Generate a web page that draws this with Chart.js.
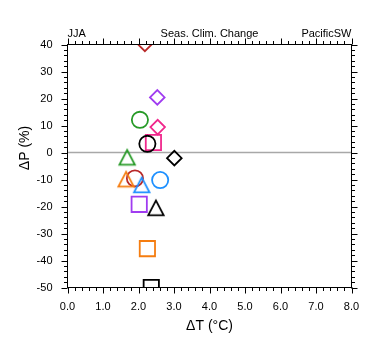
<!DOCTYPE html>
<html><head><meta charset="utf-8">
<script src="https://cdn.jsdelivr.net/npm/chart.js@4/dist/chart.umd.min.js"></script>
<style>html,body{margin:0;padding:0;background:#fff}#wrap{width:380px;height:355px}</style>
</head><body><div id="wrap"><canvas id="c" width="380" height="355"></canvas></div>
<script>
// ---- data ----
const deltaT = [2.18, 2.53, 2.04, 2.54, 2.42, 2.25, 1.68, 3.01, 1.90, 1.65, 2.61, 2.09, 2.02, 2.49, 2.25, 2.36];
const deltaP = [40.2, 20.4, 12.1, 9.4, 3.7, 3.2, -1.8, -2.1, -9.6, -9.9, -10.2, -12.0, -19.2, -20.5, -35.6, -50.0];
const markerColor = ['#b82828', '#a03cf0', '#279a27', '#f0288c', '#f0288c', '#000000', '#279a27', '#000000',
                     '#b82828', '#f57d10', '#1e90ff', '#1e90ff', '#a03cf0', '#000000', '#f57d10', '#000000'];
const markerShape = ['diamond', 'diamond', 'circle', 'diamond', 'square', 'circle', 'triangle', 'diamond',
                     'circle', 'triangle', 'circle', 'triangle', 'square', 'triangle', 'square', 'square'];
const xTickLabels = ['0.0', '1.0', '2.0', '3.0', '4.0', '5.0', '6.0', '7.0', '8.0'];
const yTickLabels = ['-50', '-40', '-30', '-20', '-10', '0', '10', '20', '30', '40'];
const xRange = [0, 8];
const yRange = [-50, 40];
const headerLeft = 'JJA';
const headerCenter = 'Seas. Clim. Change';
const headerRight = 'PacificSW';
const xTitle = '\u0394T (\u00B0C)';
const yTitle = '\u0394P (%)';

const FONT = '"Liberation Sans", Arial, Helvetica, sans-serif';

function triangleCanvas(color) {
  const c = document.createElement('canvas');
  c.width = 22; c.height = 22;
  const g = c.getContext('2d');
  g.strokeStyle = color; g.lineWidth = 1.8; g.lineJoin = 'miter';
  g.beginPath();
  g.moveTo(11, 11 - 7.3);
  g.lineTo(11 + 7.7, 11 + 7.3);
  g.lineTo(11 - 7.7, 11 + 7.3);
  g.closePath();
  g.stroke();
  return c;
}

const styles = markerShape.map((s, i) => {
  if (s === 'triangle') return triangleCanvas(markerColor[i]);
  if (s === 'diamond') return 'rectRot';
  if (s === 'square') return 'rect';
  return 'circle';
});
const radii = markerShape.map(s => s === 'square' ? 10.8 : s === 'diamond' ? 7.3 : s === 'triangle' ? 11 : 8.1);

const points = deltaT.map((t, i) => ({x: t, y: deltaP[i]}));

const deco = {
  id: 'deco',
  beforeDatasetsDraw(chart) {
    const {ctx, chartArea: a, scales: {y}} = chart;
    const yz = y.getPixelForValue(0);
    ctx.save();
    ctx.strokeStyle = '#a8a8a8';
    ctx.lineWidth = 1.6;
    ctx.beginPath();
    ctx.moveTo(a.left, yz); ctx.lineTo(a.right, yz);
    ctx.stroke();
    ctx.restore();
  },
  afterDraw(chart) {
    const {ctx, chartArea: a, scales: {x, y}} = chart;
    ctx.save();
    ctx.strokeStyle = '#000';
    ctx.lineWidth = 1;
    ctx.strokeRect(a.left, a.top, a.right - a.left, a.bottom - a.top);
    ctx.beginPath();
    const MAJ = 6, MIN = 3.5;
    for (let k = 0; k <= 40; k++) {
      const v = xRange[0] + k * 0.2;
      const px = Math.round(x.getPixelForValue(v)) + 0.5;
      const L = (k % 5 === 0) ? MAJ : MIN;
      ctx.moveTo(px, a.bottom); ctx.lineTo(px, a.bottom + L);
      ctx.moveTo(px, a.top); ctx.lineTo(px, a.top - L);
    }
    for (let k = 0; k <= 45; k++) {
      const v = yRange[0] + k * 2;
      const py = Math.round(y.getPixelForValue(v)) + 0.5;
      const L = (k % 5 === 0) ? MAJ : MIN;
      ctx.moveTo(a.left, py); ctx.lineTo(a.left - L, py);
      ctx.moveTo(a.right, py); ctx.lineTo(a.right + L, py);
    }
    ctx.stroke();

    ctx.fillStyle = '#000';
    ctx.font = '11px ' + FONT;
    ctx.textBaseline = 'alphabetic';
    ctx.textAlign = 'left';
    ctx.fillText(headerLeft, a.left, 37);
    ctx.textAlign = 'center';
    ctx.fillText(headerCenter, (a.left + a.right) / 2, 37);
    ctx.textAlign = 'right';
    ctx.fillText(headerRight, a.right, 37);

    ctx.font = '14px ' + FONT;
    ctx.textAlign = 'center';
    ctx.textBaseline = 'middle';
    ctx.fillText(xTitle, (a.left + a.right) / 2, 326);
    ctx.translate(25, 148);
    ctx.rotate(-Math.PI / 2);
    ctx.fillText(yTitle, 0, 0);
    ctx.restore();
  }
};

new Chart(document.getElementById('c'), {
  type: 'scatter',
  data: {
    datasets: [{
      data: points,
      pointStyle: styles,
      pointRadius: radii,
      pointBorderColor: markerColor,
      pointBackgroundColor: 'rgba(0,0,0,0)',
      pointBorderWidth: 1.8,
      clip: 0
    }]
  },
  options: {
    responsive: false,
    animation: false,
    events: [],
    layout: {padding: {top: 44.5, right: 28.5, bottom: 0, left: 0}},
    plugins: {legend: {display: false}, tooltip: {enabled: false}},
    scales: {
      x: {
        type: 'linear', min: xRange[0], max: xRange[1],
        afterFit(s) { s.height = 67.5; },
        afterBuildTicks(s) { s.ticks = xTickLabels.map(t => ({value: parseFloat(t)})); },
        ticks: {
          autoSkip: false, maxRotation: 0, padding: 13, color: '#000',
          font: {family: FONT, size: 11},
          callback: (v) => Number(v).toFixed(1)
        },
        grid: {display: false, drawTicks: false},
        border: {display: false}
      },
      y: {
        type: 'linear', min: yRange[0], max: yRange[1],
        afterFit(s) { s.width = 67.5; },
        afterBuildTicks(s) { s.ticks = yTickLabels.map(t => ({value: parseFloat(t)})); },
        ticks: {
          autoSkip: false, padding: 15, color: '#000',
          font: {family: FONT, size: 11},
          callback: (v) => String(v)
        },
        grid: {display: false, drawTicks: false},
        border: {display: false}
      }
    }
  },
  plugins: [deco]
});
</script>
</body></html>
